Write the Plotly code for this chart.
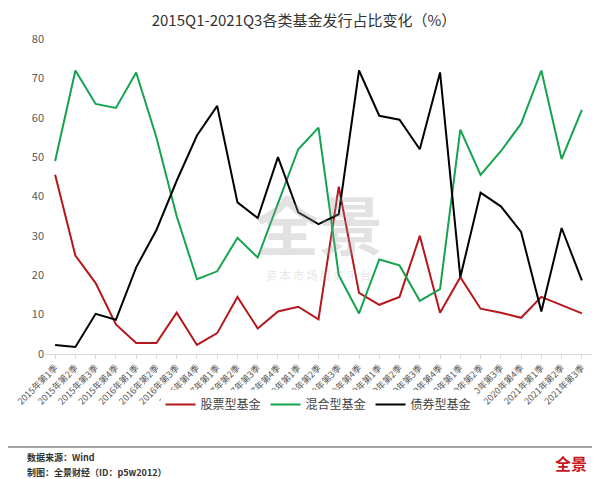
import plotly.graph_objects as go

quarters = [f"{y}年第{q}季" for y in range(2015, 2022) for q in range(1, 5)][:27]

stock = [45.5, 25, 18, 7.5, 2.8, 2.8, 10.5, 2.3, 5.3, 14.5, 6.5, 10.8, 12, 8.8,
         42.5, 15.5, 12.5, 14.5, 30, 10.5, 19.5, 11.5, 10.5, 9.2, 14.5, 12.5, 10.3]
mixed = [49, 72, 63.5, 62.5, 71.5, 55, 35, 19, 21, 29.5, 24.5, 38, 52, 57.5,
         20, 10.3, 24, 22.5, 13.5, 16.5, 57, 45.5, 51.5, 58.5, 72, 49.5, 62]
bond = [2.3, 1.8, 10.2, 8.7, 22, 31.5, 44, 55.5, 63, 38.5, 34.5, 50, 36, 33,
        35.5, 72, 60.5, 59.5, 52, 71.5, 19.5, 41, 37.5, 31, 10.8, 32, 18.7]

font = "Noto Sans CJK SC"
fig = go.Figure()
for name, vals, color in [("股票型基金", stock, "#b5171c"),
                          ("混合型基金", mixed, "#16a34f"),
                          ("债券型基金", bond, "#000000")]:
    fig.add_trace(go.Scatter(x=quarters, y=vals, name=name, mode="lines",
                             line=dict(color=color, width=2)))

# page has an 8px body margin, so the figure is sized to fit the window
fig.update_layout(
    width=592, height=471,
    paper_bgcolor="white", plot_bgcolor="white",
    font=dict(family=font, size=11, color="#595959"),
    title=dict(text="2015Q1-2021Q3各类基金发行占比变化（%）", x=0.5, y=0.985,
               xanchor="center", yanchor="top", font=dict(size=15, color="#333")),
    margin=dict(l=37, r=8, t=31, b=125, autoexpand=False),
    legend=dict(orientation="h", x=0.5, xanchor="center", y=-0.16, yanchor="middle",
                font=dict(size=12, color="#444")),
    xaxis=dict(range=[-0.5, 26.5], tickangle=-45, showgrid=False, automargin=False,
               showline=True, linecolor="#d9d9d9", ticks="outside",
               tickcolor="#d9d9d9", ticklen=4, tickfont=dict(size=9, color="#595959")),
    yaxis=dict(range=[0, 80], dtick=10, showgrid=False, zeroline=False,
               automargin=False, tickfont=dict(size=11)),
)
fig.add_annotation(text="<b>全景</b>", x=0.5, y=0.42, xref="paper", yref="paper",
                   showarrow=False, font=dict(size=64, color="rgba(160,160,160,0.3)"))
fig.add_annotation(text="资 本 市 场 服 务 平 台", x=0.5, y=0.22, xref="paper", yref="paper",
                   showarrow=False, font=dict(size=11, color="rgba(160,160,160,0.3)"))
fig.add_shape(type="line", xref="paper", yref="paper", x0=-0.07, x1=1.02,
              y0=-0.295, y1=-0.295, line=dict(color="#888", width=1.5))
fig.add_annotation(text="<b>数据来源：Wind</b>",
                   xref="paper", yref="paper", x=-0.037, y=-0.33, xanchor="left",
                   yanchor="middle", showarrow=False, font=dict(size=9, color="#333"))
fig.add_annotation(text="<b>制图：全景财经（ID：p5w2012）</b>",
                   xref="paper", yref="paper", x=-0.037, y=-0.375, xanchor="left",
                   yanchor="middle", showarrow=False, font=dict(size=9, color="#333"))
fig.add_annotation(text="<b>全景</b>", xref="paper", yref="paper", x=0.995, y=-0.345,
                   xanchor="right", yanchor="middle", showarrow=False,
                   font=dict(size=16, color="#c8161d"))
fig.write_html("out.html")
